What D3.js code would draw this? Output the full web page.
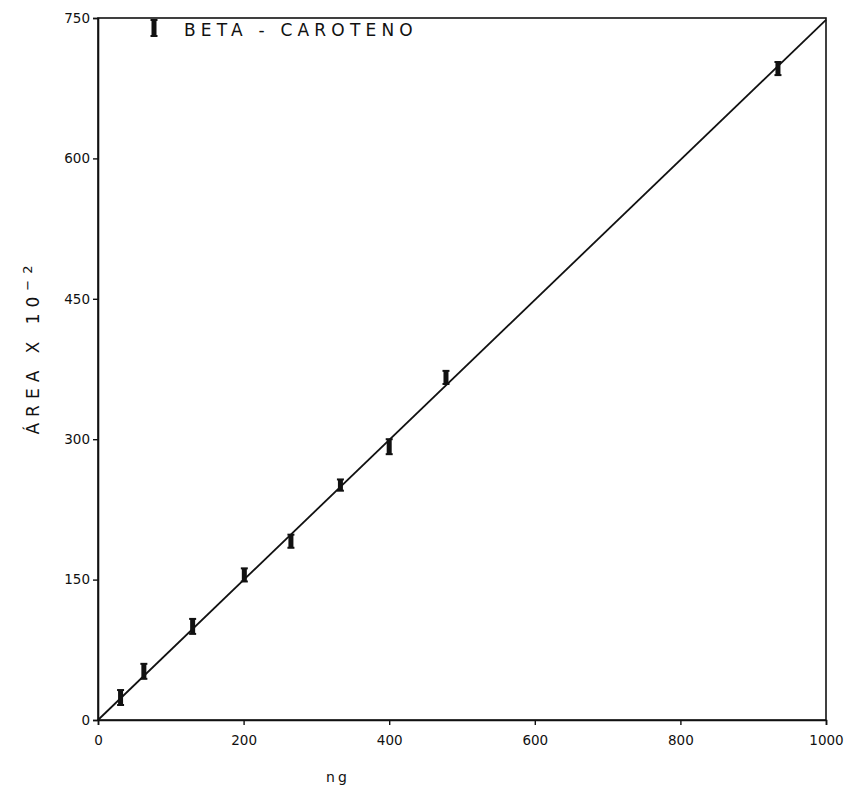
<!DOCTYPE html>
<html>
<head>
<meta charset="utf-8">
<script src="https://cdn.jsdelivr.net/npm/d3@7"></script>
<style>
  html, body { margin: 0; padding: 0; background: #fff; }
  svg { display: block; }
  text { font-family: "DejaVu Sans", sans-serif; fill: #111; }
</style>
</head>
<body>
<svg id="chart" width="846" height="794"></svg>
<script>
// Beta-carotene calibration: injected mass (ng) vs peak area (x 10^-2)
const ngValues   = [31, 63, 130, 201, 265, 333, 400, 478, 934];
const areaMeans  = [24, 52, 100, 155, 191, 251, 292, 366, 696];
const areaErrors = [8, 8, 8, 7, 7, 6, 8, 7, 7];
const fitLine    = [[0, 0], [1000, 748]];
const xTicks = [0, 200, 400, 600, 800, 1000];
const yTicks = [0, 150, 300, 450, 600, 750];
const legendLabel = "BETA-CAROTENO";

const svg = d3.select("#chart");
const m = { left: 98, right: 20, top: 18, bottom: 74 };
const W = 846, H = 794;

const x = d3.scaleLinear().domain([0, 1000]).range([m.left, W - m.right]);
const y = d3.scaleLinear().domain([0, 750]).range([H - m.bottom, m.top]);

// frame
svg.append("rect")
  .attr("x", x(0)).attr("y", y(750))
  .attr("width", x(1000) - x(0)).attr("height", y(0) - y(750))
  .attr("fill", "none").attr("stroke", "#111").attr("stroke-width", 1.6);

const xAxis = svg.append("g")
  .attr("transform", `translate(0,${y(0)})`)
  .call(d3.axisBottom(x).tickValues(xTicks).tickSize(5).tickPadding(10).tickFormat(d3.format("d")));
const yAxis = svg.append("g")
  .attr("transform", `translate(${x(0)},0)`)
  .call(d3.axisLeft(y).tickValues(yTicks).tickSize(5).tickPadding(3).tickFormat(d3.format("d")));

[xAxis, yAxis].forEach(g => {
  g.select(".domain").attr("stroke", "#111").attr("stroke-width", 1.6);
  g.selectAll(".tick line").attr("stroke", "#111").attr("stroke-width", 1.4);
  g.selectAll(".tick text").attr("font-size", 13.5).attr("fill", "#111")
    .attr("font-family", "DejaVu Sans, sans-serif");
});

// regression line
svg.append("line")
  .attr("x1", x(fitLine[0][0])).attr("y1", y(fitLine[0][1]))
  .attr("x2", x(fitLine[1][0])).attr("y2", y(fitLine[1][1]))
  .attr("stroke", "#111").attr("stroke-width", 1.8);

// error-bar markers
function drawMarker(g, cx, yLo, yHi) {
  const w = 7;
  g.append("rect")
    .attr("x", cx - w / 2 + 1).attr("y", yHi)
    .attr("width", w - 2).attr("height", yLo - yHi)
    .attr("fill", "#111");
  g.append("line").attr("x1", cx - w / 2).attr("x2", cx + w / 2)
    .attr("y1", yHi).attr("y2", yHi).attr("stroke", "#111").attr("stroke-width", 2);
  g.append("line").attr("x1", cx - w / 2).attr("x2", cx + w / 2)
    .attr("y1", yLo).attr("y2", yLo).attr("stroke", "#111").attr("stroke-width", 2);
}

const pts = svg.append("g");
ngValues.forEach((v, i) => {
  drawMarker(pts, x(v), y(areaMeans[i] - areaErrors[i]), y(areaMeans[i] + areaErrors[i]));
});

// legend
const lg = svg.append("g");
drawMarker(lg, 154, 36, 20);
lg.append("text")
  .attr("x", 184).attr("y", 36)
  .attr("font-size", 17).attr("letter-spacing", 5.2)
  .text(legendLabel.replace("-", " - "));

// axis titles
svg.append("text")
  .attr("x", 338).attr("y", 782)
  .attr("text-anchor", "middle").attr("font-size", 14).attr("letter-spacing", 3)
  .text("ng");

const yt = svg.append("text")
  .attr("transform", `translate(39,347) rotate(-90)`)
  .attr("text-anchor", "middle").attr("font-size", 17).attr("letter-spacing", 6);
yt.append("tspan").text("ÁREA X 10");
yt.append("tspan").attr("dy", -7).attr("font-size", 13).text("−2");
</script>
</body>
</html>
